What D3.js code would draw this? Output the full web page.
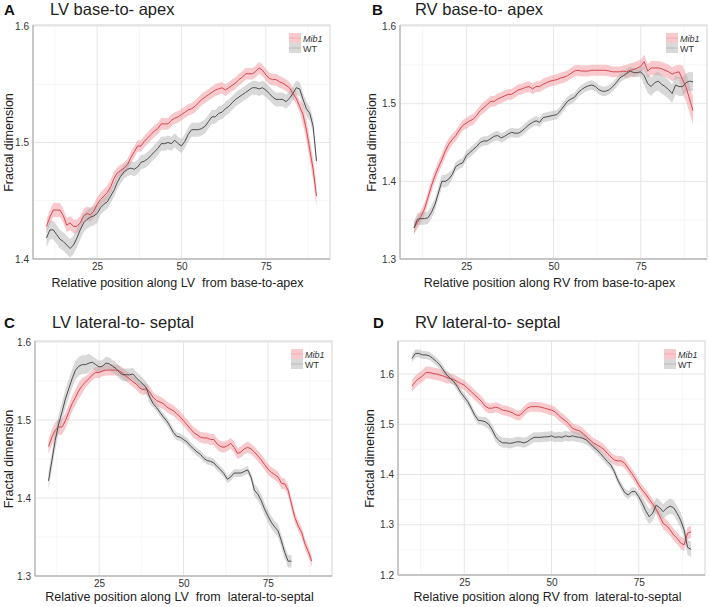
<!DOCTYPE html>
<html><head><meta charset="utf-8">
<script src="https://cdn.jsdelivr.net/npm/d3@7"></script>
<style>
body{margin:0;background:#fff}
svg{display:block;font-family:"Liberation Sans",Arial,Helvetica,sans-serif}
</style>
</head><body>
<svg id="c" width="709" height="607"></svg>
<script>
// ---------- DATA (x positions start at 10, step 1) ----------
const xStart = 10;
const seriesNames = ["Mib1", "WT"];
const xTicks = [25, 50, 75];

const A_mib1 = [1.428,1.436,1.442,1.442,1.442,1.437,1.429,1.431,1.428,1.428,
1.431,1.437,1.439,1.438,1.441,1.447,1.451,1.454,1.457,1.462,
1.469,1.474,1.476,1.478,1.481,1.487,1.492,1.497,1.497,1.501,
1.504,1.507,1.510,1.512,1.516,1.516,1.516,1.519,1.521,1.522,
1.524,1.526,1.528,1.529,1.531,1.534,1.537,1.539,1.541,1.543,
1.545,1.546,1.547,1.545,1.547,1.549,1.551,1.554,1.556,1.559,
1.559,1.559,1.561,1.564,1.562,1.558,1.555,1.554,1.554,1.552,
1.551,1.549,1.547,1.542,1.538,1.531,1.524,1.511,1.494,1.477,1.454];
const A_wt = [1.418,1.425,1.425,1.421,1.417,1.415,1.412,1.409,1.412,1.418,
1.425,1.431,1.434,1.436,1.437,1.439,1.444,1.447,1.449,1.454,
1.459,1.466,1.471,1.475,1.477,1.478,1.477,1.479,1.483,1.484,
1.486,1.489,1.492,1.495,1.499,1.499,1.500,1.499,1.502,1.499,
1.497,1.501,1.507,1.511,1.511,1.511,1.512,1.514,1.518,1.522,
1.522,1.525,1.526,1.529,1.531,1.534,1.537,1.539,1.541,1.543,
1.545,1.547,1.547,1.546,1.547,1.545,1.542,1.539,1.537,1.537,
1.537,1.535,1.538,1.542,1.547,1.546,1.537,1.529,1.525,1.514,1.484];

const B_mib1 = [1.340,1.347,1.355,1.364,1.379,1.394,1.407,1.418,1.428,1.439,
1.448,1.454,1.459,1.466,1.472,1.475,1.478,1.480,1.485,1.491,
1.495,1.499,1.503,1.503,1.506,1.508,1.510,1.512,1.512,1.515,
1.518,1.519,1.521,1.522,1.519,1.522,1.522,1.525,1.527,1.529,
1.530,1.531,1.533,1.534,1.536,1.539,1.542,1.543,1.542,1.542,
1.542,1.543,1.543,1.543,1.543,1.543,1.542,1.541,1.541,1.541,
1.542,1.541,1.543,1.544,1.546,1.548,1.554,1.542,1.546,1.546,
1.546,1.545,1.543,1.541,1.538,1.540,1.541,1.531,1.521,1.506,1.491];
const B_wt = [1.340,1.351,1.352,1.352,1.353,1.360,1.370,1.385,1.400,1.400,
1.403,1.409,1.419,1.422,1.424,1.433,1.437,1.441,1.445,1.450,
1.452,1.452,1.455,1.458,1.459,1.456,1.458,1.461,1.463,1.462,
1.462,1.465,1.469,1.473,1.476,1.478,1.476,1.482,1.483,1.484,
1.485,1.486,1.491,1.497,1.503,1.506,1.508,1.514,1.518,1.521,
1.523,1.524,1.522,1.518,1.516,1.516,1.518,1.522,1.527,1.533,
1.536,1.539,1.542,1.540,1.540,1.541,1.536,1.526,1.522,1.527,
1.529,1.525,1.522,1.518,1.513,1.524,1.522,1.522,1.527,1.529,1.528];

const C_mib1 = [1.466,1.478,1.487,1.491,1.491,1.499,1.510,1.521,1.529,1.538,
1.544,1.549,1.553,1.558,1.561,1.561,1.563,1.564,1.564,1.564,
1.564,1.563,1.560,1.556,1.553,1.549,1.546,1.541,1.539,1.540,
1.536,1.529,1.525,1.523,1.521,1.517,1.514,1.512,1.508,1.504,
1.499,1.494,1.489,1.484,1.481,1.478,1.477,1.477,1.475,1.475,
1.469,1.466,1.465,1.467,1.470,1.465,1.457,1.459,1.463,1.465,
1.463,1.459,1.454,1.449,1.443,1.437,1.433,1.430,1.427,1.419,
1.418,1.410,1.392,1.375,1.364,1.356,1.341,1.331,1.319];
const C_wt = [1.422,1.448,1.474,1.495,1.510,1.527,1.540,1.553,1.564,1.569,
1.571,1.571,1.573,1.574,1.571,1.568,1.569,1.573,1.572,1.569,
1.566,1.561,1.558,1.558,1.558,1.559,1.554,1.550,1.546,1.541,
1.529,1.521,1.516,1.510,1.504,1.499,1.492,1.484,1.479,1.478,
1.475,1.472,1.467,1.463,1.459,1.456,1.451,1.448,1.447,1.445,
1.440,1.436,1.431,1.424,1.427,1.432,1.432,1.432,1.434,1.436,
1.427,1.410,1.405,1.397,1.386,1.377,1.369,1.363,1.358,1.345,
1.330,1.319,1.319];

const D_mib1 = [1.576,1.585,1.591,1.596,1.603,1.603,1.601,1.600,1.598,1.596,
1.593,1.591,1.589,1.585,1.581,1.578,1.571,1.565,1.558,1.552,
1.545,1.536,1.532,1.532,1.534,1.532,1.528,1.527,1.525,1.522,
1.518,1.518,1.525,1.532,1.535,1.535,1.535,1.534,1.532,1.530,
1.528,1.525,1.518,1.512,1.507,1.500,1.492,1.489,1.487,1.482,
1.475,1.469,1.463,1.459,1.455,1.450,1.442,1.435,1.429,1.427,
1.427,1.422,1.412,1.402,1.392,1.379,1.369,1.361,1.351,1.341,
1.331,1.317,1.303,1.298,1.290,1.280,1.273,1.264,1.260,1.283,1.286];
const D_wt = [1.631,1.641,1.641,1.638,1.638,1.636,1.631,1.625,1.618,1.608,
1.598,1.591,1.585,1.575,1.563,1.554,1.545,1.532,1.518,1.508,
1.507,1.505,1.500,1.489,1.475,1.467,1.463,1.463,1.462,1.463,
1.465,1.465,1.463,1.465,1.470,1.474,1.474,1.474,1.475,1.475,
1.477,1.474,1.475,1.474,1.477,1.475,1.477,1.475,1.474,1.472,
1.469,1.462,1.455,1.449,1.442,1.434,1.426,1.419,1.406,1.389,
1.376,1.364,1.359,1.366,1.366,1.356,1.343,1.328,1.316,1.323,
1.339,1.334,1.326,1.333,1.337,1.334,1.323,1.309,1.290,1.255,1.251];

// standard-error half widths, as [from x, to x, half width]
const A_mib1_se = [[10,30,0.006],[30,85,0.005],[85,90,0.009]];
const A_wt_se   = [[10,25,0.008],[25,90,0.006]];
const B_mib1_se = [[10,20,0.008],[20,70,0.007],[70,86,0.009],[86,90,0.018]];
const B_wt_se   = [[10,20,0.008],[20,75,0.006],[75,90,0.012]];
const C_mib1_se = [[10,20,0.010],[20,88,0.007]];
const C_wt_se   = [[10,22,0.012],[22,40,0.008],[40,70,0.005],[70,82,0.008]];
const D_mib1_se = [[10,20,0.012],[20,80,0.010],[80,90,0.012]];
const D_wt_se   = [[10,30,0.008],[30,60,0.010],[60,75,0.008],[75,90,0.015]];

const A_yTicks = [1.4, 1.5, 1.6];
const B_yTicks = [1.3, 1.4, 1.5, 1.6];
const C_yTicks = [1.3, 1.4, 1.5, 1.6];
const D_yTicks = [1.2, 1.3, 1.4, 1.5, 1.6];

const titles = ["LV base-to- apex", "RV base-to- apex", "LV lateral-to- septal", "RV lateral-to- septal"];
const letters = ["A", "B", "C", "D"];
const xLabels = ["Relative position along LV  from base-to-apex",
                 "Relative position along RV from base-to-apex",
                 "Relative position along LV  from  lateral-to-septal",
                 "Relative position along RV from  lateral-to-septal"];
const yLabel = "Fractal dimension";

// ---------- LAYOUT ----------
const panels = [
  {mib: A_mib1, wt: A_wt, mibSe: A_mib1_se, wtSe: A_wt_se, yTicks: A_yTicks, yDom: [1.4, 1.6],
   L: 33, R: 330, T: 26, B: 259, letterX: 4, titleX: 50, titleY: 15, yLabX: 13, xLabY: 287},
  {mib: B_mib1, wt: B_wt, mibSe: B_mib1_se, wtSe: B_wt_se, yTicks: B_yTicks, yDom: [1.3, 1.6],
   L: 400, R: 707, T: 26, B: 259, letterX: 372, titleX: 415, titleY: 15, yLabX: 376, xLabY: 287},
  {mib: C_mib1, wt: C_wt, mibSe: C_mib1_se, wtSe: C_wt_se, yTicks: C_yTicks, yDom: [1.3, 1.6],
   L: 35, R: 332, T: 342, B: 576, letterX: 4, titleX: 52, titleY: 328, yLabX: 13, xLabY: 601},
  {mib: D_mib1, wt: D_wt, mibSe: D_mib1_se, wtSe: D_wt_se, yTicks: D_yTicks, yDom: [1.2, 1.6637],
   L: 398, R: 705, T: 342, B: 575, letterX: 373, titleX: 415, titleY: 328, yLabX: 374, xLabY: 601}
];

const red = "#d9464e", redFill = "rgba(242,150,156,0.5)";
const grey = "#4d4d4d", greyFill = "rgba(170,170,170,0.45)";

const svg = d3.select("#c");

function seAt(bands, x) {
  const b = bands.find(d => x >= d[0] && x <= d[1]);
  return b ? b[2] : 0;
}

panels.forEach((p, i) => {
  const g = svg.append("g");
  const x = d3.scaleLinear().domain([6, 94]).range([p.L, p.R]);
  const topVal = p.yDom[1];
  const y = d3.scaleLinear().domain(p.yDom).range([p.B, p.T]);

  // grid
  const yMinor = p.yTicks.slice(0, -1).map(v => +(v + 0.05).toFixed(2));
  const xMinor = [12.5, 37.5, 62.5, 87.5];
  g.selectAll(".gmx").data(xMinor).join("line")
    .attr("x1", d => x(d)).attr("x2", d => x(d)).attr("y1", p.T).attr("y2", p.B)
    .attr("stroke", "#f3f3f3").attr("stroke-width", 0.8);
  g.selectAll(".gmy").data(yMinor).join("line")
    .attr("x1", p.L).attr("x2", p.R).attr("y1", d => y(d)).attr("y2", d => y(d))
    .attr("stroke", "#f3f3f3").attr("stroke-width", 0.8);
  g.selectAll(".gx").data(xTicks).join("line")
    .attr("x1", d => x(d)).attr("x2", d => x(d)).attr("y1", p.T).attr("y2", p.B)
    .attr("stroke", "#e6e6e6").attr("stroke-width", 1);
  g.selectAll(".gy").data(p.yTicks).join("line")
    .attr("x1", p.L).attr("x2", p.R).attr("y1", d => y(d)).attr("y2", d => y(d))
    .attr("stroke", "#e6e6e6").attr("stroke-width", 1);

  // frame
  const frameTop = Math.min(p.T, y(topVal)) - 1;
  g.append("rect").attr("x", p.L).attr("y", frameTop).attr("width", p.R - p.L).attr("height", p.B - frameTop)
    .attr("fill", "none").attr("stroke", "#d4d4d4").attr("stroke-width", 1);
  g.append("line").attr("x1", p.L).attr("x2", p.L).attr("y1", frameTop).attr("y2", p.B)
    .attr("stroke", "#a8a8a8").attr("stroke-width", 1);
  g.append("line").attr("x1", p.L).attr("x2", p.R).attr("y1", p.B).attr("y2", p.B)
    .attr("stroke", "#a8a8a8").attr("stroke-width", 1);

  // axes
  const ax = g.append("g").attr("transform", `translate(0,${p.B})`)
    .call(d3.axisBottom(x).tickValues(xTicks).tickSize(0).tickPadding(4).tickFormat(d3.format("d")));
  ax.select(".domain").remove();
  ax.selectAll("text").attr("font-size", 10).attr("fill", "#333").attr("font-family", "Liberation Sans, Arial, sans-serif");
  const ay = g.append("g").attr("transform", `translate(${p.L},0)`)
    .call(d3.axisLeft(y).tickValues(p.yTicks).tickSize(0).tickPadding(4).tickFormat(d3.format(".1f")));
  ay.select(".domain").remove();
  ay.selectAll("text").attr("font-size", 10).attr("fill", "#333").attr("font-family", "Liberation Sans, Arial, sans-serif");

  // data
  const mk = (vals, se) => vals.map((v, k) => ({x: xStart + k, y: v, se: seAt(se, xStart + k)}));
  const dm = mk(p.mib, p.mibSe), dw = mk(p.wt, p.wtSe);
  const area = d3.area().x(d => x(d.x)).y0(d => y(d.y - d.se)).y1(d => y(d.y + d.se));
  const line = d3.line().x(d => x(d.x)).y(d => y(d.y));
  const clipId = "clip" + i;
  svg.append("clipPath").attr("id", clipId).append("rect")
    .attr("x", p.L).attr("y", frameTop).attr("width", p.R - p.L).attr("height", p.B - frameTop);
  const dg = g.append("g").attr("clip-path", `url(#${clipId})`);
  dg.append("path").datum(dm).attr("d", area).attr("fill", redFill);
  dg.append("path").datum(dw).attr("d", area).attr("fill", greyFill);
  dg.append("path").datum(dm).attr("d", line).attr("fill", "none").attr("stroke", red).attr("stroke-width", 1);
  dg.append("path").datum(dw).attr("d", line).attr("fill", "none").attr("stroke", grey).attr("stroke-width", 1);

  // legend
  const lx = p.R - 41, ly = frameTop + 8;
  const leg = [{n: seriesNames[0], f: redFill, c: red, it: true}, {n: seriesNames[1], f: greyFill, c: grey, it: false}];
  leg.forEach((l, k) => {
    const yy = ly + k * 10;
    g.append("rect").attr("x", lx).attr("y", yy).attr("width", 12).attr("height", 10).attr("fill", l.f);
    g.append("line").attr("x1", lx).attr("x2", lx + 12).attr("y1", yy + 5).attr("y2", yy + 5)
      .attr("stroke", l.c).attr("stroke-width", 0.5).attr("opacity", 0.4);
    g.append("text").attr("x", lx + 14).attr("y", yy + 8.5).attr("font-size", 9).attr("fill", "#333")
      .attr("font-style", l.it ? "italic" : "normal").text(l.n);
  });

  // titles
  g.append("text").attr("x", p.letterX).attr("y", p.titleY).attr("font-size", 15).attr("font-weight", "bold")
    .attr("fill", "#111").text(letters[i]);
  g.append("text").attr("x", p.titleX).attr("y", p.titleY).attr("font-size", 16.5).attr("fill", "#222")
    .style("white-space", "pre").text(titles[i]);
  g.append("text").attr("x", (p.L + p.R) / 2 - 4).attr("y", p.xLabY).attr("text-anchor", "middle")
    .attr("font-size", 12.5).attr("fill", "#222").style("white-space", "pre").text(xLabels[i]);
  g.append("text").attr("transform", `translate(${p.yLabX},${(p.T + p.B) / 2}) rotate(-90)`)
    .attr("text-anchor", "middle").attr("font-size", 12.5).attr("fill", "#222").text(yLabel);
});
</script>
</body></html>
